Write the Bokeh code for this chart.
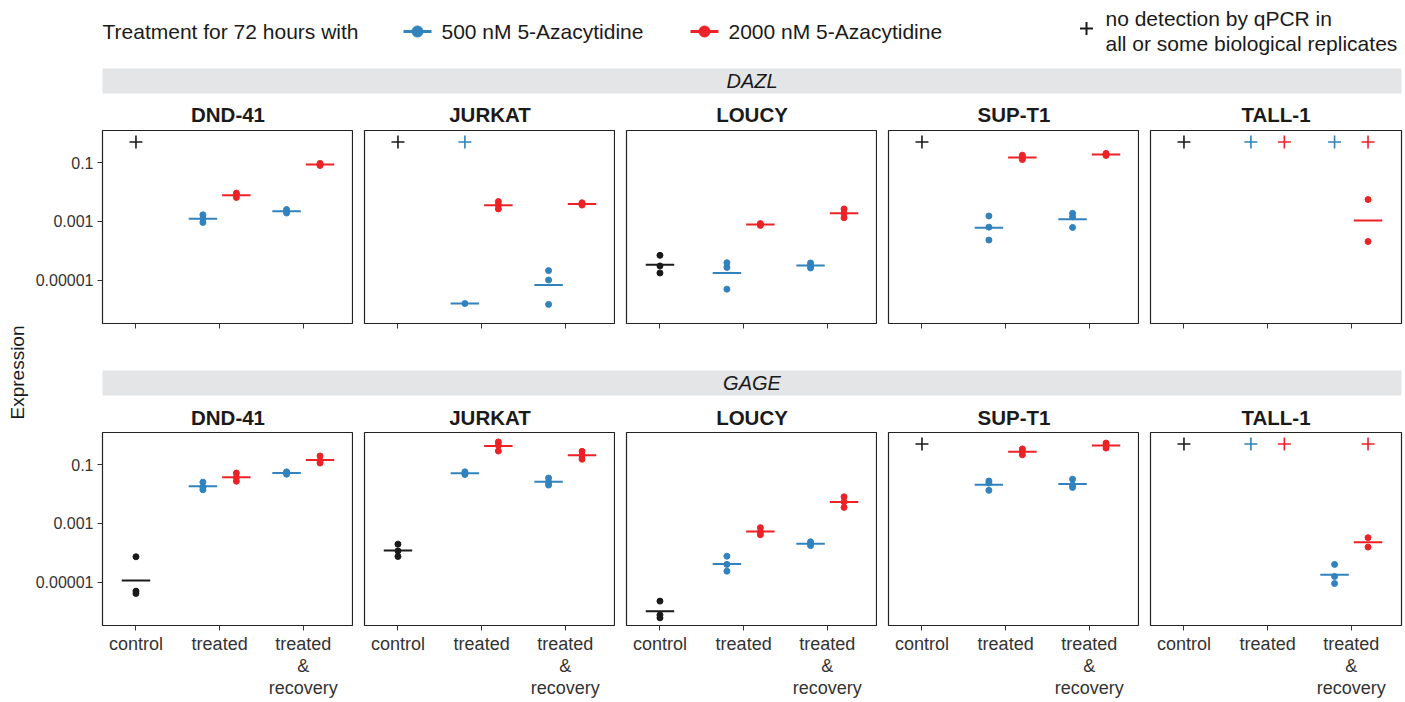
import math
from bokeh.plotting import figure
from bokeh.layouts import column, row
from bokeh.models import Range1d, FixedTicker
from bokeh.embed import file_html
from bokeh.resources import INLINE
from bokeh.core.properties import value

FONT = "Liberation Sans"

# ---------------- data ----------------
cell_lines = ["DND-41", "JURKAT", "LOUCY", "SUP-T1", "TALL-1"]
genes = ["DAZL", "GAGE"]
x_categories = ["control", "treated", "treated\n&\nrecovery"]
y_ticks = [1e-5, 1e-3, 1e-1]
y_tick_labels = ["0.00001", "0.001", "0.1"]
legend_title = "Treatment for 72 hours with"
dose_labels = ["500 nM 5-Azacytidine", "2000 nM 5-Azacytidine"]
nd_note = ["no detection by qPCR in", "all or some biological replicates"]
y_axis_title = "Expression"
ND_LEVEL = 0.5  # where "no detection" crosses are drawn

# group -> (category index, dose)
groups = ["ctrl", "t500", "t2000", "r500", "r2000"]
group_category = [1, 2, 2, 3, 3]
group_dose = [None, 500, 2000, 500, 2000]

# log10 expression of biological replicates
DAZL_DND41 = {"ctrl": [], "t500": [-2.78, -2.91, -3.04], "t2000": [-2.04, -2.10, -2.19],
              "r500": [-2.60, -2.65, -2.72], "r2000": [-1.03, -1.07, -1.10]}
DAZL_DND41_ND = ["ctrl"]
DAZL_JURKAT = {"ctrl": [], "t500": [-5.80], "t2000": [-2.33, -2.45, -2.58],
               "r500": [-4.68, -5.00, -5.83], "r2000": [-2.37, -2.41, -2.45]}
DAZL_JURKAT_ND = ["ctrl", "t500"]
DAZL_LOUCY = {"ctrl": [-4.16, -4.52, -4.76], "t500": [-4.41, -4.57, -5.31], "t2000": [-3.08, -3.11, -3.14],
              "r500": [-4.42, -4.51, -4.59], "r2000": [-2.58, -2.73, -2.88]}
DAZL_LOUCY_ND = []
DAZL_SUPT1 = {"ctrl": [], "t500": [-2.82, -3.20, -3.64], "t2000": [-0.75, -0.83, -0.90],
              "r500": [-2.73, -2.85, -3.21], "r2000": [-0.69, -0.73, -0.76]}
DAZL_SUPT1_ND = ["ctrl"]
DAZL_TALL1 = {"ctrl": [], "t500": [], "t2000": [], "r500": [], "r2000": [-2.26, -3.69]}
DAZL_TALL1_ND = ["ctrl", "t500", "t2000", "r500", "r2000"]

GAGE_DND41 = {"ctrl": [-4.14, -5.31, -5.39], "t500": [-1.60, -1.77, -1.86], "t2000": [-1.29, -1.44, -1.57],
              "r500": [-1.25, -1.28, -1.33], "r2000": [-0.71, -0.88, -0.95]}
GAGE_DND41_ND = []
GAGE_JURKAT = {"ctrl": [-3.71, -3.94, -4.13], "t500": [-1.25, -1.29, -1.34], "t2000": [-0.23, -0.35, -0.54],
               "r500": [-1.46, -1.60, -1.70], "r2000": [-0.55, -0.69, -0.82]}
GAGE_JURKAT_ND = []
GAGE_LOUCY = {"ctrl": [-5.65, -6.12, -6.22], "t500": [-4.12, -4.40, -4.63], "t2000": [-3.15, -3.30, -3.39],
              "r500": [-3.63, -3.69, -3.76], "r2000": [-2.10, -2.27, -2.46]}
GAGE_LOUCY_ND = []
GAGE_SUPT1 = {"ctrl": [], "t500": [-1.56, -1.63, -1.88], "t2000": [-0.47, -0.56, -0.67],
              "r500": [-1.50, -1.70, -1.78], "r2000": [-0.27, -0.34, -0.44]}
GAGE_SUPT1_ND = ["ctrl"]
GAGE_TALL1 = {"ctrl": [], "t500": [], "t2000": [], "r500": [-4.40, -4.81, -5.05], "r2000": [-3.49, -3.81]}
GAGE_TALL1_ND = ["ctrl", "t500", "t2000", "r2000"]

DATA = {
    "DAZL": [(DAZL_DND41, DAZL_DND41_ND), (DAZL_JURKAT, DAZL_JURKAT_ND), (DAZL_LOUCY, DAZL_LOUCY_ND),
             (DAZL_SUPT1, DAZL_SUPT1_ND), (DAZL_TALL1, DAZL_TALL1_ND)],
    "GAGE": [(GAGE_DND41, GAGE_DND41_ND), (GAGE_JURKAT, GAGE_JURKAT_ND), (GAGE_LOUCY, GAGE_LOUCY_ND),
             (GAGE_SUPT1, GAGE_SUPT1_ND), (GAGE_TALL1, GAGE_TALL1_ND)],
}

# ---------------- style / layout ----------------
C_CTRL = "#1a1a1a"
C_500 = "#3182BD"
C_2000 = "#EC2227"
DOSE_COLOR = {None: C_CTRL, 500: C_500, 2000: C_2000}
DOSE_DODGE = {None: 0.0, 500: -0.2, 2000: 0.2}
TEXT = "#1a1a1a"
STRIP = "#E4E5E7"

LABEL_W = 30          # left column holding the y axis title
FW, FH = 251, 193     # panel frame size
GAP = 11
LEFT0 = 72            # border left of first panel (inside right column)
RB = 2
RIGHT_W = LEFT0 + 5 * FW + 4 * GAP + RB
HEADER_H = 129
ROW1_BB = 6
MID_H = 102
ROW2_BB = 76
TOTAL_H = HEADER_H + (1 + FH + ROW1_BB) + MID_H + (1 + FH + ROW2_BB)
Y_LO, Y_HI = 10 ** -6.48, 10 ** 0.09


def blank(w, h):
    p = figure(width=w, height=h, x_range=Range1d(0, w), y_range=Range1d(0, h), title=None,
               toolbar_location=None, output_backend="svg", min_border=0)
    p.xaxis.visible = False
    p.yaxis.visible = False
    p.grid.visible = False
    p.outline_line_color = None
    return p


def txt(p, h, x, y, s, size, align="left", style="normal", angle=0.0, color=TEXT):
    p.text(x=[x], y=[h - y], text=[s], text_font=value(FONT), text_font_size=size,
           text_align=align, text_baseline="middle", text_font_style=style, text_color=color, angle=angle)


def panel_centers():
    return [LEFT0 + i * (FW + GAP) + FW / 2 for i in range(5)]


def strip_and_titles(p, h, strip_top, gene, title_y):
    p.quad(left=[LEFT0], right=[LEFT0 + 5 * FW + 4 * GAP], top=[h - strip_top], bottom=[h - strip_top - 25],
           fill_color=STRIP, line_color=None)
    txt(p, h, LEFT0 + (5 * FW + 4 * GAP) / 2, strip_top + 12.5, gene, "20px", align="center", style="italic")
    for cx, name in zip(panel_centers(), cell_lines):
        txt(p, h, cx, title_y, name, "20.5px", align="center", style="bold")


# left column: y axis title
ylab = blank(LABEL_W, TOTAL_H)
txt(ylab, TOTAL_H, 17, 372, y_axis_title, "19px", align="center", angle=math.pi / 2)

# header: legend + DAZL strip + cell line titles
header = blank(RIGHT_W, HEADER_H)
H = HEADER_H
txt(header, H, 72, 31, legend_title, "21px")
for (x0, lab), dose in zip([(373, dose_labels[0]), (660, dose_labels[1])], [500, 2000]):
    c = DOSE_COLOR[dose]
    header.segment(x0=[x0], y0=[H - 31], x1=[x0 + 28], y1=[H - 31], line_color=c, line_width=3)
    header.scatter(x=[x0 + 14], y=[H - 31], size=11, color=c, marker="circle")
    txt(header, H, x0 + 38, 31, lab, "21px")
header.scatter(x=[1056], y=[H - 28], marker="cross", size=13, line_width=2, color=C_CTRL)
txt(header, H, 1075, 18, nd_note[0], "21px")
txt(header, H, 1075, 43, nd_note[1], "21px")
strip_and_titles(header, H, 68, genes[0], 114)

# middle: GAGE strip + titles
mid = blank(RIGHT_W, MID_H)
strip_and_titles(mid, MID_H, 41, genes[1], 88)


def panel(data, nd, col, bottom):
    first = col == 0
    last = col == 4
    lb = LEFT0 if first else GAP
    rb = RB if last else 0
    bb = ROW2_BB if bottom else ROW1_BB
    p = figure(width=FW + lb + rb, height=FH + 1 + bb, x_range=Range1d(0.6, 3.6),
               y_range=Range1d(Y_LO, Y_HI), y_axis_type="log", toolbar_location=None, title=None,
               output_backend="svg", min_border_left=lb, min_border_right=rb,
               min_border_top=1, min_border_bottom=bb)
    p.grid.visible = False
    p.outline_line_color = "#222222"
    p.outline_line_width = 1.2
    xa = p.xaxis[0]
    xa.ticker = FixedTicker(ticks=[1, 2, 3])
    xa.major_label_overrides = {i + 1: lab for i, lab in enumerate(x_categories)}
    xa.axis_line_color = None
    xa.major_tick_out = 5
    xa.major_tick_in = 0
    xa.major_tick_line_color = "#333333"
    xa.minor_tick_line_color = None
    if bottom:
        xa.major_label_text_font = FONT
        xa.major_label_text_font_size = "18px"
        xa.major_label_text_color = "#333333"
        xa.major_label_text_line_height = 1.1
        xa.major_label_standoff = 3
    else:
        xa.major_label_text_font_size = "1px"
        xa.major_label_text_color = None
        xa.major_label_standoff = 0
    ya = p.yaxis[0]
    if first:
        ya.ticker = FixedTicker(ticks=y_ticks)
        ya.major_label_overrides = dict(zip(y_ticks, y_tick_labels))
        ya.axis_line_color = None
        ya.major_tick_out = 5
        ya.major_tick_in = 0
        ya.major_tick_line_color = "#333333"
        ya.minor_tick_line_color = None
        ya.major_label_text_font = FONT
        ya.major_label_text_font_size = "16px"
        ya.major_label_text_color = "#333333"
        ya.major_label_standoff = 4
    else:
        ya.visible = False

    for g, cat, dose in zip(groups, group_category, group_dose):
        x = cat + DOSE_DODGE[dose]
        c = DOSE_COLOR[dose]
        vals = data[g]
        if vals:
            p.scatter(x=[x] * len(vals), y=[10 ** v for v in vals], size=6, color=c, marker="circle")
            m = 10 ** (sum(vals) / len(vals))
            p.segment(x0=[x - 0.17], y0=[m], x1=[x + 0.17], y1=[m], line_color=c, line_width=2)
        if g in nd:
            p.scatter(x=[x], y=[ND_LEVEL], marker="cross", size=13, line_width=1.6, color=c)
    return p


row1 = row(*[panel(d, n, i, False) for i, (d, n) in enumerate(DATA["DAZL"])], spacing=0)
row2 = row(*[panel(d, n, i, True) for i, (d, n) in enumerate(DATA["GAGE"])], spacing=0)

right = column(header, row1, mid, row2, spacing=0)
layout = row(ylab, right, spacing=0)
open("out.html", "w").write(file_html(layout, INLINE))
